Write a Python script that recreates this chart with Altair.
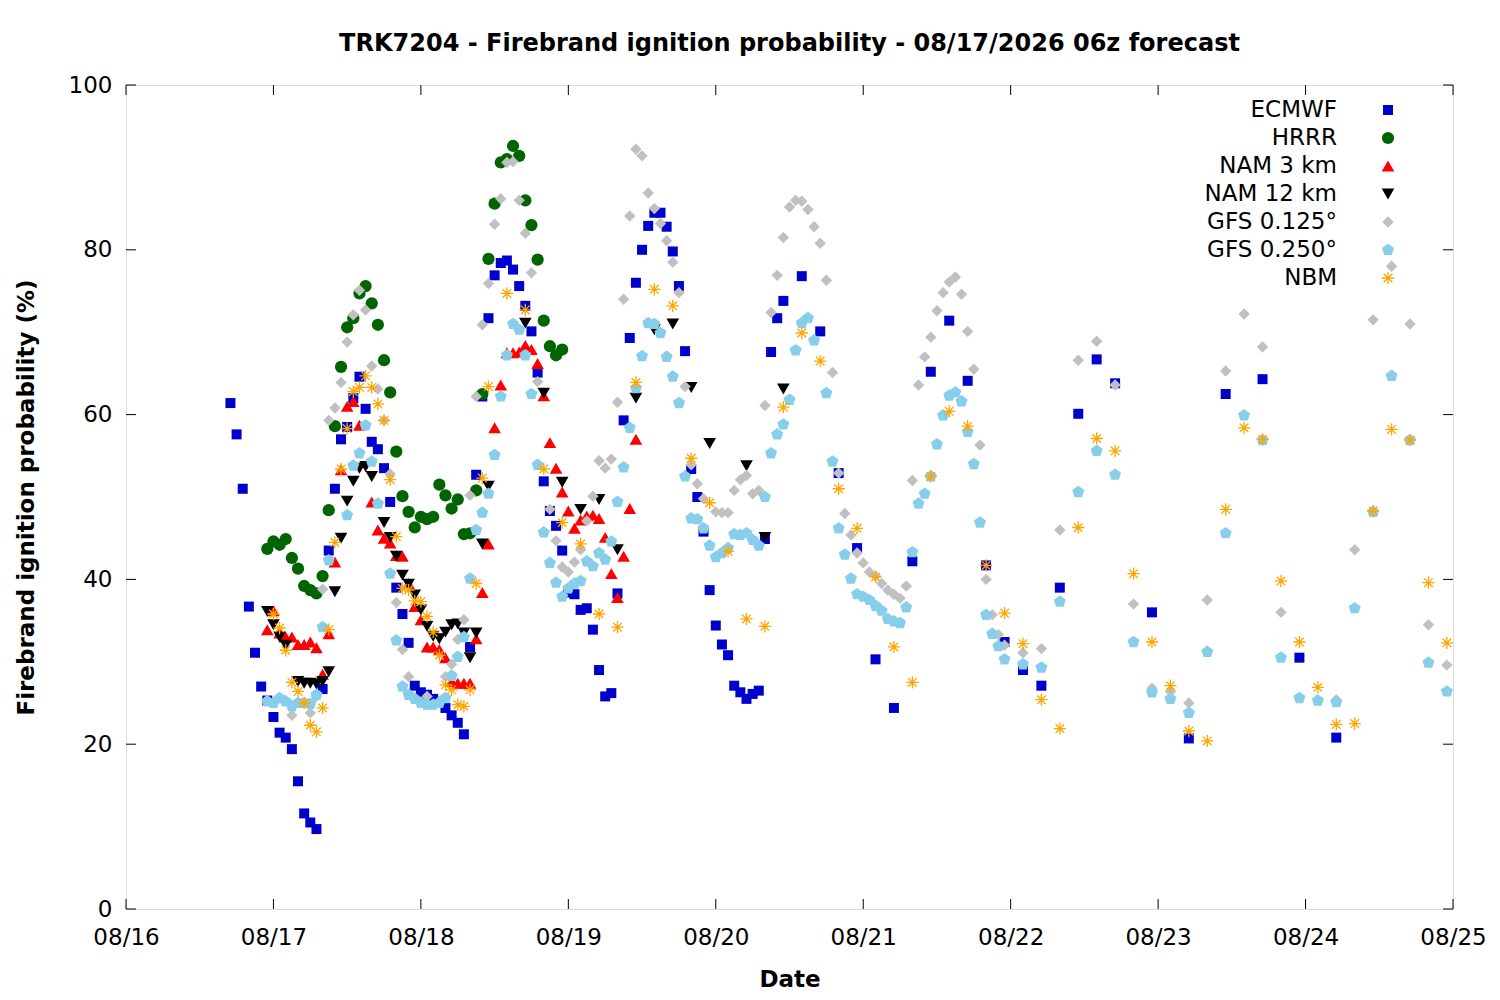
import pandas as pd
import altair as alt

FONT = "DejaVu Sans"

# hours after 08/16 00z, probability (%)
ecmwf_h = [17, 18, 19, 20, 21, 22, 23, 24, 25, 26, 27, 28, 29, 30, 31, 32, 33, 34, 35, 36,
           37, 38, 39, 40, 41, 42, 43, 44, 45, 46, 47, 48, 49, 50, 51, 52, 53, 54, 55, 56,
           57, 58, 59, 60, 61, 62, 63, 64, 65, 66, 67, 68, 69, 70, 71, 72, 73, 74, 75, 76,
           77, 78, 79, 80, 81, 82, 83, 84, 85, 86, 87, 88, 89, 90, 91, 92, 93, 94, 95, 96,
           97, 98, 99, 100, 101, 102, 103, 104, 105, 106, 107, 110, 113, 116, 119, 122, 125,
           128, 131, 134, 137, 140, 143, 146, 149, 152, 155, 158, 161, 167, 173, 179, 185,
           191, 197]
ecmwf_v = [61.4, 57.6, 51.0, 36.7, 31.1, 27.0, 25.3, 23.3, 21.4, 20.8, 19.4, 15.5, 11.6, 10.5,
           9.7, 26.7, 43.5, 51.0, 57.0, 58.5, 62.0, 64.6, 60.7, 56.7, 55.8, 53.5, 49.4, 39.0,
           35.8, 32.3, 27.1, 26.3, 26.0, 25.5, 25.0, 24.4, 23.5, 22.6, 21.2, 31.8, 52.7, 62.2,
           71.7, 76.9, 78.4, 78.7, 77.6, 75.6, 73.2, 70.1, 65.1, 51.9, 48.3, 46.5, 43.5, 38.4,
           38.2, 36.3, 36.5, 33.9, 29.0, 25.8, 26.2, 38.3, 59.3, 69.3, 76.0, 80.0, 82.9, 84.5,
           84.5, 82.8, 79.8, 75.6, 67.7, 53.4, 50.0, 45.8, 38.7, 34.4, 32.1, 30.8, 27.1, 26.3,
           25.5, 26.1, 26.5, 44.9, 67.6, 71.7, 73.8, 76.8, 70.1, 52.9, 43.8, 30.3, 24.4, 42.2,
           65.2, 71.4, 64.1, 41.7, 32.4, 29.0, 27.1, 39.0, 60.1, 66.7, 63.8, 36.0, 20.7, 62.5,
           64.3, 30.5, 20.8]

hrrr_h = list(range(23, 72))
hrrr_v = [43.7, 44.6, 44.2, 44.9, 42.6, 41.3, 39.2, 38.7, 38.3, 40.4, 48.4, 58.6, 65.8, 70.6,
          71.7, 74.7, 75.6, 73.5, 70.9, 66.6, 62.7, 55.5, 50.1, 48.2, 46.3, 47.6, 47.3, 47.6,
          51.5, 50.2, 48.6, 49.7, 45.5, 45.6, 50.8, 62.5, 78.9, 85.6, 90.6, 91.0, 92.6, 91.4,
          86.0, 83.0, 78.8, 71.4, 68.3, 67.2, 67.9]

nam3_h = [23, 24, 25, 26, 27, 28, 29, 30, 31, 32, 33, 34, 35, 36, 37, 38, 40, 41, 42, 43, 44,
          45, 46, 47, 48, 49, 50, 51, 52, 53, 54, 55, 56, 57, 58, 59, 60, 61, 62, 63, 64, 65,
          66, 67, 68, 69, 70, 71, 72, 73, 74, 75, 76, 77, 78, 79, 80, 81, 82, 83]
nam3_v = [33.9, 36.2, 33.5, 33.0, 33.0, 32.1, 32.1, 32.4, 31.7, 28.5, 33.4, 42.1, 53.3, 61.0,
          61.6, 58.7, 49.4, 46.0, 45.0, 44.4, 42.9, 42.8, 39.5, 36.7, 35.1, 31.8, 31.8, 31.5,
          30.5, 27.6, 27.4, 27.4, 27.4, 32.8, 38.4, 44.3, 58.4, 63.6, 67.5, 67.5, 67.6, 68.4,
          67.9, 66.2, 62.3, 56.6, 53.5, 50.6, 48.3, 46.2, 47.2, 47.7, 47.8, 47.4, 45.1, 40.7,
          37.8, 42.8, 48.6, 57.0]

nam12_h = [23, 24, 25, 26, 28, 29, 30, 31, 32, 33, 34, 35, 36, 37, 38, 39, 40, 42, 43, 44, 45,
           46, 47, 48, 49, 50, 51, 52, 53, 54, 55, 56, 57, 58, 59, 65, 68, 71, 74, 77, 80, 83,
           86, 89, 92, 95, 101, 104, 107]
nam12_v = [36.1, 34.5, 33.0, 32.0, 27.6, 27.4, 27.4, 27.3, 27.6, 28.8, 38.5, 45.0, 49.5, 51.9,
           53.5, 53.7, 52.5, 46.9, 45.1, 42.8, 40.5, 39.4, 38.1, 36.3, 34.3, 33.1, 32.8, 33.6,
           34.5, 34.6, 33.5, 30.5, 33.5, 44.3, 51.3, 71.1, 62.6, 51.8, 48.5, 49.7, 43.6, 62.0,
           70.3, 71.0, 63.3, 56.5, 53.8, 45.1, 63.1]

gfs125_h = [23, 27, 30, 31, 32, 33, 34, 35, 36, 37, 38, 39, 40, 41, 42, 43, 44, 45, 46, 49, 51,
            52, 53, 54, 55, 56, 57, 58, 59, 60, 61, 62, 63, 64, 65, 66, 67, 69, 70, 71, 72, 73,
            74, 75, 76, 77, 78, 79, 80, 81, 82, 83, 84, 85, 86, 87, 88, 89, 90, 91, 92, 93, 94,
            96, 97, 98, 99, 100, 101, 102, 103, 104, 105, 106, 107, 108, 109, 110, 111, 112,
            113, 114, 115, 116, 117, 118, 119, 120, 121, 122, 123, 124, 125, 126, 127, 128,
            129, 130, 131, 132, 133, 134, 135, 136, 137, 138, 139, 140, 141, 142, 143, 146,
            149, 152, 155, 158, 161, 164, 167, 170, 173, 176, 179, 182, 185, 188, 197, 200,
            203, 206, 209, 212, 215]
gfs125_v = [25.3, 23.5, 23.8, 25.8, 38.8, 59.3, 60.8, 63.9, 68.8, 72.1, 75.1, 72.7, 65.9, 63.1,
            59.3, 52.8, 37.2, 31.5, 28.2, 25.8, 25.2, 28.2, 29.7, 32.7, 35.1, 50.2, 62.2, 70.9,
            75.9, 83.1, 86.2, 90.6, 90.7, 86.0, 82.0, 77.2, 64.0, 48.5, 44.7, 41.5, 40.9, 42.1,
            43.6, 47.1, 50.1, 54.4, 53.5, 54.6, 61.5, 74.0, 84.1, 92.2, 91.4, 86.9, 85.0, 83.2,
            81.1, 78.5, 74.8, 63.4, 53.9, 51.6, 49.8, 48.2, 48.1, 48.1, 50.8, 52.1, 52.6, 50.4,
            50.8, 61.1, 72.4, 76.9, 81.5, 85.2, 86.0, 85.9, 84.9, 82.8, 80.8, 76.3, 65.1, 52.9,
            48.0, 45.4, 43.2, 42.0, 40.9, 40.4, 39.5, 38.7, 38.2, 37.7, 39.2, 52.0, 63.6, 67.0,
            69.4, 72.6, 74.8, 76.1, 76.7, 74.6, 70.1, 65.5, 56.3, 40.0, 35.7, 33.3, 32.0, 31.1,
            31.6, 46.0, 66.6, 68.9, 63.6, 37.0, 26.8, 26.4, 25.0, 37.5, 65.3, 72.2, 68.2, 36.0,
            25.4, 43.6, 71.5, 78.0, 71.0, 34.5, 29.6]

gfs250_h = [23, 24, 25, 26, 27, 28, 29, 30, 31, 32, 33, 36, 37, 38, 39, 40, 41, 43, 44, 45, 46,
            47, 48, 49, 50, 51, 52, 53, 54, 55, 56, 57, 58, 59, 60, 61, 62, 63, 64, 65, 66, 67,
            68, 69, 70, 71, 72, 73, 74, 75, 76, 77, 78, 79, 80, 81, 82, 83, 84, 85, 86, 87, 88,
            89, 90, 91, 92, 93, 94, 95, 96, 97, 98, 99, 100, 101, 102, 103, 104, 105, 106, 107,
            108, 109, 110, 111, 112, 114, 115, 116, 117, 118, 119, 120, 121, 122, 123, 124,
            125, 126, 127, 128, 129, 130, 131, 132, 133, 134, 135, 136, 137, 138, 139, 140,
            141, 142, 143, 146, 149, 152, 155, 158, 161, 164, 167, 170, 173, 176, 179, 182,
            185, 188, 191, 194, 197, 200, 203, 206, 209, 212, 215]
gfs250_v = [25.2, 25.0, 25.6, 25.2, 24.6, 25.0, 25.0, 24.9, 26.0, 34.2, 42.3, 47.8, 53.8, 55.3,
            58.7, 54.3, 49.2, 40.7, 32.6, 27.0, 26.0, 25.5, 25.0, 24.8, 24.8, 25.0, 25.6, 28.3,
            30.6, 33.0, 40.1, 46.0, 48.1, 50.4, 55.1, 62.2, 67.2, 71.0, 70.3, 67.2, 62.5, 53.9,
            45.7, 42.0, 39.6, 37.9, 38.9, 39.5, 39.8, 42.2, 41.6, 43.2, 42.4, 44.6, 49.4, 53.6,
            58.4, 63.2, 67.1, 71.1, 71.0, 69.9, 67.0, 64.6, 61.4, 52.5, 47.4, 47.3, 46.2, 44.1,
            42.7, 43.2, 43.8, 45.5, 45.4, 45.6, 44.8, 44.1, 50.0, 55.3, 57.6, 58.8, 61.8, 67.8,
            71.1, 71.7, 69.0, 62.6, 54.3, 46.2, 43.0, 40.1, 38.2, 37.9, 37.5, 36.8, 36.2, 35.2,
            34.9, 34.7, 36.6, 43.3, 49.2, 50.4, 52.5, 56.4, 59.9, 62.3, 62.7, 61.6, 57.9, 54.0,
            46.9, 35.7, 33.4, 31.9, 30.3, 29.7, 29.3, 37.3, 50.6, 55.6, 52.7, 32.4, 26.3, 25.5,
            23.8, 31.2, 45.6, 59.9, 56.9, 30.5, 25.6, 25.3, 25.1, 36.5, 48.2, 64.7, 56.9, 29.9,
            26.4]

nbm_h = [24, 25, 26, 27, 28, 29, 30, 31, 32, 33, 34, 35, 36, 37, 38, 39, 40, 41, 42, 43, 44,
         45, 46, 47, 48, 49, 50, 51, 52, 53, 54, 55, 56, 57, 58, 59, 62, 65, 68, 71, 74, 77, 80,
         83, 86, 89, 92, 95, 98, 101, 104, 107, 110, 113, 116, 119, 122, 125, 128, 131, 134,
         137, 140, 143, 146, 149, 152, 155, 158, 161, 164, 167, 170, 173, 176, 179, 182, 185,
         188, 191, 194, 197, 200, 203, 206, 209, 212, 215]
nbm_v = [35.8, 34.1, 31.4, 27.5, 26.4, 25.0, 22.3, 21.5, 24.4, 33.9, 44.5, 53.4, 58.3, 62.8,
         63.3, 64.7, 63.3, 61.3, 59.3, 52.1, 45.2, 38.9, 38.7, 37.4, 37.3, 35.5, 33.6, 30.8,
         27.2, 26.6, 24.8, 24.6, 26.6, 39.5, 52.3, 63.4, 74.7, 72.7, 53.4, 46.9, 44.3, 35.8,
         34.2, 63.9, 75.2, 73.2, 54.7, 49.3, 43.4, 35.2, 34.3, 60.9, 69.9, 66.5, 51.0, 46.2,
         40.3, 31.8, 27.5, 52.5, 60.4, 58.6, 41.7, 35.9, 32.2, 25.4, 21.9, 46.3, 57.1, 55.6,
         40.7, 32.4, 27.1, 21.6, 20.4, 48.5, 58.4, 57.0, 39.8, 32.4, 26.9, 22.4, 22.5, 48.3,
         58.2, 56.9, 39.6, 32.3]

day_labels = ["08/16", "08/17", "08/18", "08/19", "08/20", "08/21", "08/22", "08/23", "08/24", "08/25"]
x_ticks = [24 * i for i in range(len(day_labels))]
y_ticks = [0, 20, 40, 60, 80, 100]

pentagon = "M0,-1L0.951,-0.309L0.588,0.809L-0.588,0.809L-0.951,-0.309Z"
star = "M-1,0L1,0M0,-1L0,1M-0.7,-0.7L0.7,0.7M-0.7,0.7L0.7,-0.7"

series = [
    ("ECMWF", ecmwf_h, ecmwf_v, "square", "#0000CD", 100, True),
    ("HRRR", hrrr_h, hrrr_v, "circle", "#006400", 150, True),
    ("NAM 3 km", nam3_h, nam3_v, "triangle-up", "#FF0000", 160, True),
    ("NAM 12 km", nam12_h, nam12_v, "triangle-down", "#000000", 160, True),
    ("GFS 0.125°", gfs125_h, gfs125_v, "diamond", "#C0C0C0", 130, True),
    ("GFS 0.250°", gfs250_h, gfs250_v, pentagon, "#87CEEB", 160, True),
    ("NBM", nbm_h, nbm_v, star, "#FFA500", 150, False),
]

W, H = 1327, 824
TL = 10

x_scale = alt.Scale(domain=[0, 216], nice=False, zero=False)
y_scale = alt.Scale(domain=[0, 100], nice=False, zero=True)

x_axis = alt.Axis(
    values=x_ticks,
    labelExpr="'08/' + (16 + datum.value / 24)",
    title="Date",
    ticks=False, domain=False, grid=False,
    labelFlush=False, labelOverlap=False,
    labelFont=FONT, labelFontSize=23, labelColor="black", labelPadding=17,
    titleFont=FONT, titleFontSize=23, titleFontWeight="bold", titleColor="black",
    titlePadding=19,
)
y_axis = alt.Axis(
    values=y_ticks,
    title="Firebrand ignition probability (%)",
    ticks=False, domain=False, grid=False,
    labelFont=FONT, labelFontSize=23, labelColor="black", labelPadding=14,
    titleFont=FONT, titleFontSize=23, titleFontWeight="bold", titleColor="black",
    titlePadding=30,
)

layers = []
for name, hs, vs, shape, color, size, filled in series:
    df = pd.DataFrame({"hour": hs, "prob": vs})
    mark = dict(shape=shape, size=size, color=color, opacity=1, filled=filled)
    if not filled:
        mark["strokeWidth"] = 1.3
    layers.append(
        alt.Chart(df).mark_point(**mark).encode(
            x=alt.X("hour:Q", scale=x_scale, axis=x_axis),
            y=alt.Y("prob:Q", scale=y_scale, axis=y_axis),
        )
    )

# inward ticks on all four sides (gnuplot style)
xt = pd.DataFrame({"hour": x_ticks})
yt = pd.DataFrame({"prob": y_ticks})
layers.append(alt.Chart(xt).mark_rule(color="black").encode(
    x="hour:Q", y=alt.value(H), y2=alt.value(H - TL)))
layers.append(alt.Chart(xt).mark_rule(color="black").encode(
    x="hour:Q", y=alt.value(0), y2=alt.value(TL)))
layers.append(alt.Chart(yt).mark_rule(color="black").encode(
    y="prob:Q", x=alt.value(0), x2=alt.value(TL)))
layers.append(alt.Chart(yt).mark_rule(color="black").encode(
    y="prob:Q", x=alt.value(W), x2=alt.value(W - TL)))

# key, top right: label then symbol
one = pd.DataFrame({"k": [0]})
for i, (name, hs, vs, shape, color, size, filled) in enumerate(series):
    ry = 25 + 28 * i
    layers.append(alt.Chart(one).mark_text(
        text=name, align="right", baseline="middle", font=FONT, fontSize=23, color="black"
    ).encode(x=alt.value(1211), y=alt.value(ry)))
    mark = dict(shape=shape, size=size, color=color, opacity=1, filled=filled)
    if not filled:
        mark["strokeWidth"] = 1.3
    layers.append(alt.Chart(one).mark_point(**mark).encode(x=alt.value(1262), y=alt.value(ry)))

chart = (
    alt.layer(*layers)
    .properties(
        width=W, height=H,
        title=alt.TitleParams(
            "TRK7204 - Firebrand ignition probability - 08/17/2026 06z forecast",
            font=FONT, fontSize=24, fontWeight="bold", color="black", offset=18, anchor="middle",
        ),
        autosize=alt.AutoSizeParams(type="none"),
        padding={"left": 118, "top": 77, "right": 36, "bottom": 82},
    )
    .configure_view(stroke="black", strokeWidth=1)
    .configure(background="white")
)

chart.save("out.html", embed_options={"renderer": "svg", "actions": False})
